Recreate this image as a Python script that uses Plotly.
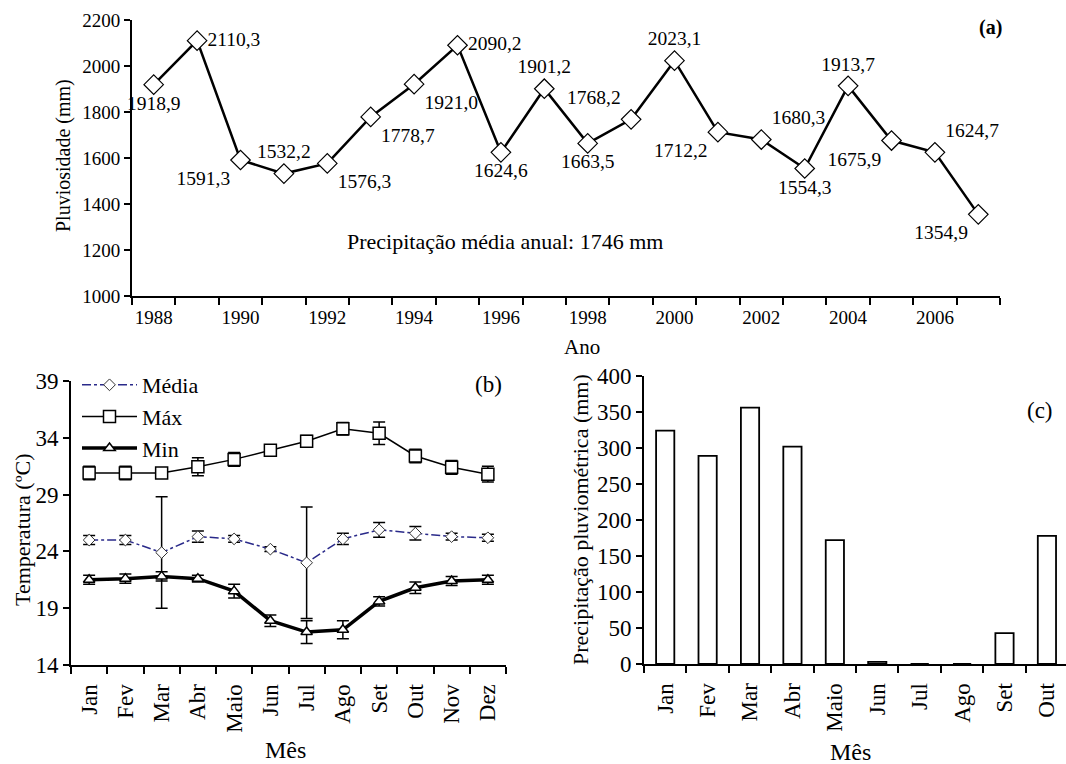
import plotly.graph_objects as go

# ---------------- data ----------------
anos = list(range(1988, 2008))
pluviosidade = [1918.9, 2110.3, 1591.3, 1532.2, 1576.3, 1778.7, 1921.0, 2090.2, 1624.6, 1901.2,
                1663.5, 1768.2, 2023.1, 1712.2, 1680.3, 1554.3, 1913.7, 1675.9, 1624.7, 1354.9]
rotulo_pos = ["bottom center", "middle right", "bottom left", "top center", "bottom right",
              "bottom right", "bottom right", "middle right", "bottom center", "top center",
              "bottom center", "top left", "top center", "bottom left", "top right",
              "bottom center", "top center", "bottom left", "top right", "bottom left"]

meses = ["Jan", "Fev", "Mar", "Abr", "Maio", "Jun", "Jul", "Ago", "Set", "Out", "Nov", "Dez"]
t_media = [25.0, 25.0, 23.9, 25.3, 25.1, 24.2, 23.0, 25.1, 25.9, 25.6, 25.3, 25.2]
t_media_err = [0.4, 0.4, 4.9, 0.5, 0.3, 0.2, 4.9, 0.5, 0.65, 0.6, 0.3, 0.3]
t_max = [30.9, 30.9, 30.9, 31.45, 32.1, 32.9, 33.7, 34.8, 34.4, 32.4, 31.4, 30.8]
t_max_err = [0.6, 0.6, 0.3, 0.8, 0.6, 0.35, 0.5, 0.55, 1.0, 0.6, 0.6, 0.7]
t_min = [21.5, 21.6, 21.8, 21.6, 20.5, 17.9, 16.9, 17.1, 19.6, 20.8, 21.4, 21.5]
t_min_err = [0.4, 0.4, 0.4, 0.3, 0.6, 0.5, 1.0, 0.8, 0.4, 0.5, 0.4, 0.4]

meses_c = ["Jan", "Fev", "Mar", "Abr", "Maio", "Jun", "Jul", "Ago", "Set", "Out"]
precip_mensal = [324, 289, 356, 302, 172, 3, 0, 0, 43, 178]

# ---------------- style ----------------
FONT = "'Liberation Serif', 'Times New Roman', 'DejaVu Serif', serif"
W, H = 1066, 764

def px_x(p):
    return p / W

def px_y(p):
    return 1 - p / H

fig = go.Figure()

# panel (a)
fig.add_trace(go.Scatter(
    x=anos, y=pluviosidade, mode="lines+markers+text",
    text=[f"{v:.1f}".replace(".", ",") for v in pluviosidade],
    textposition=rotulo_pos,
    textfont=dict(family=FONT, size=19.5, color="black"),
    line=dict(color="black", width=2.5),
    marker=dict(symbol="diamond", size=15, color="white", line=dict(color="black", width=1.2)),
    xaxis="x", yaxis="y", showlegend=False, cliponaxis=False))

# panel (b)
xb = list(range(len(meses)))
fig.add_trace(go.Scatter(
    x=xb, y=t_media, name="Média", mode="lines+markers",
    line=dict(color="#2a2a8a", width=1.5, dash="dashdot"),
    marker=dict(symbol="diamond", size=9, color="white", line=dict(color="#333", width=1)),
    error_y=dict(type="data", array=t_media_err, color="black", thickness=1.5, width=6),
    xaxis="x2", yaxis="y2"))
fig.add_trace(go.Scatter(
    x=xb, y=t_max, name="Máx", mode="lines+markers",
    line=dict(color="black", width=1.5),
    marker=dict(symbol="square", size=12, color="white", line=dict(color="black", width=1.5)),
    error_y=dict(type="data", array=t_max_err, color="black", thickness=1.5, width=6),
    xaxis="x2", yaxis="y2"))
fig.add_trace(go.Scatter(
    x=xb, y=t_min, name="Min", mode="lines+markers",
    line=dict(color="black", width=3.5),
    marker=dict(symbol="triangle-up", size=10, color="white", line=dict(color="black", width=1.5)),
    error_y=dict(type="data", array=t_min_err, color="black", thickness=1.5, width=6),
    xaxis="x2", yaxis="y2"))

# panel (c)
xc = list(range(len(meses_c)))
fig.add_trace(go.Bar(
    x=xc, y=precip_mensal, width=0.43,
    marker=dict(color="white", line=dict(color="black", width=1.8)),
    xaxis="x3", yaxis="y3", showlegend=False))

axis_common = dict(showline=True, linecolor="black", linewidth=2, showgrid=False, zeroline=False,
                   tickcolor="black", tickwidth=1.5, ticklen=6, automargin=False)

def yax(**kw):
    d = dict(axis_common, ticks="outside")
    d.update(kw)
    return d

def xax(**kw):
    d = dict(axis_common, ticks="")
    d.update(kw)
    return d

fig.update_layout(
    template="none",
    width=W, height=H, margin=dict(l=0, r=0, t=0, b=0, autoexpand=False),
    paper_bgcolor="white", plot_bgcolor="white",
    font=dict(family=FONT, color="black"),
    xaxis=xax(domain=[px_x(132), px_x(1000)], anchor="y",
              range=[1987.5, 2007.5], tickmode="array", tickvals=anos[::2],
              tickfont=dict(family=FONT, size=19, color="black"), ticklabelstandoff=3,
              minor=dict(ticks="outside", tick0=1987.5, dtick=1, ticklen=7,
                         tickcolor="black", tickwidth=1.5, showgrid=False)),
    yaxis=yax(domain=[px_y(296), px_y(20)], anchor="x",
              range=[1000, 2200], tick0=1000, dtick=200,
              tickfont=dict(family=FONT, size=19, color="black")),
    xaxis2=xax(domain=[px_x(71), px_x(506)], anchor="y2",
               range=[-0.5, 11.5], tickmode="array", tickvals=xb, ticktext=meses,
               tickangle=-90, tickfont=dict(family=FONT, size=23, color="black"),
               ticklabelstandoff=8,
               minor=dict(ticks="outside", tick0=-0.5, dtick=1, ticklen=7,
                          tickcolor="black", tickwidth=1.5, showgrid=False)),
    yaxis2=yax(domain=[px_y(665), px_y(381)], anchor="x2",
               range=[14, 39], tick0=14, dtick=5, tickfont=dict(family=FONT, size=23, color="black")),
    xaxis3=xax(domain=[px_x(644), 1.0], anchor="y3",
               range=[-0.5, 9.45], tickmode="array", tickvals=xc, ticktext=meses_c,
               tickangle=-90, tickfont=dict(family=FONT, size=23, color="black"),
               ticklabelstandoff=8,
               minor=dict(ticks="outside", tick0=-0.5, dtick=1, ticklen=7,
                          tickcolor="black", tickwidth=1.5, showgrid=False)),
    yaxis3=yax(domain=[px_y(664), px_y(376)], anchor="x3",
               range=[0, 400], tick0=0, dtick=50, tickfont=dict(family=FONT, size=23, color="black")),
    legend=dict(x=px_x(77), y=px_y(364), xanchor="left", yanchor="top",
                bgcolor="rgba(0,0,0,0)", font=dict(family=FONT, size=22, color="black"),
                tracegroupgap=0, itemwidth=55),
)

ann = [
    dict(text="Pluviosidade (mm)", x=px_x(63), y=px_y(156), textangle=-90, size=20),
    dict(text="Ano", x=px_x(582), y=px_y(347), size=21),
    dict(text="Precipitação média anual: 1746 mm", x=px_x(505), y=px_y(242), size=22),
    dict(text="<b>(a)</b>", x=px_x(990), y=px_y(28), size=20),
    dict(text="Temperatura (ºC)", x=px_x(22), y=px_y(530), textangle=-90, size=22),
    dict(text="Mês", x=px_x(285), y=px_y(750), size=24),
    dict(text="(b)", x=px_x(488), y=px_y(384), size=23),
    dict(text="Precipitação pluviométrica (mm)", x=px_x(580), y=px_y(520), textangle=-90, size=22),
    dict(text="Mês", x=px_x(850), y=px_y(752), size=24),
    dict(text="(c)", x=px_x(1040), y=px_y(410), size=23),
]
for a in ann:
    fig.add_annotation(text=a["text"], x=a["x"], y=a["y"], xref="paper", yref="paper",
                       showarrow=False, textangle=a.get("textangle", 0),
                       font=dict(family=FONT, size=a["size"], color="black"),
                       xanchor="center", yanchor="middle")

fig.write_html("out.html", config={"displayModeBar": False},
               post_script="document.body.style.margin='0';document.body.style.padding='0';")
